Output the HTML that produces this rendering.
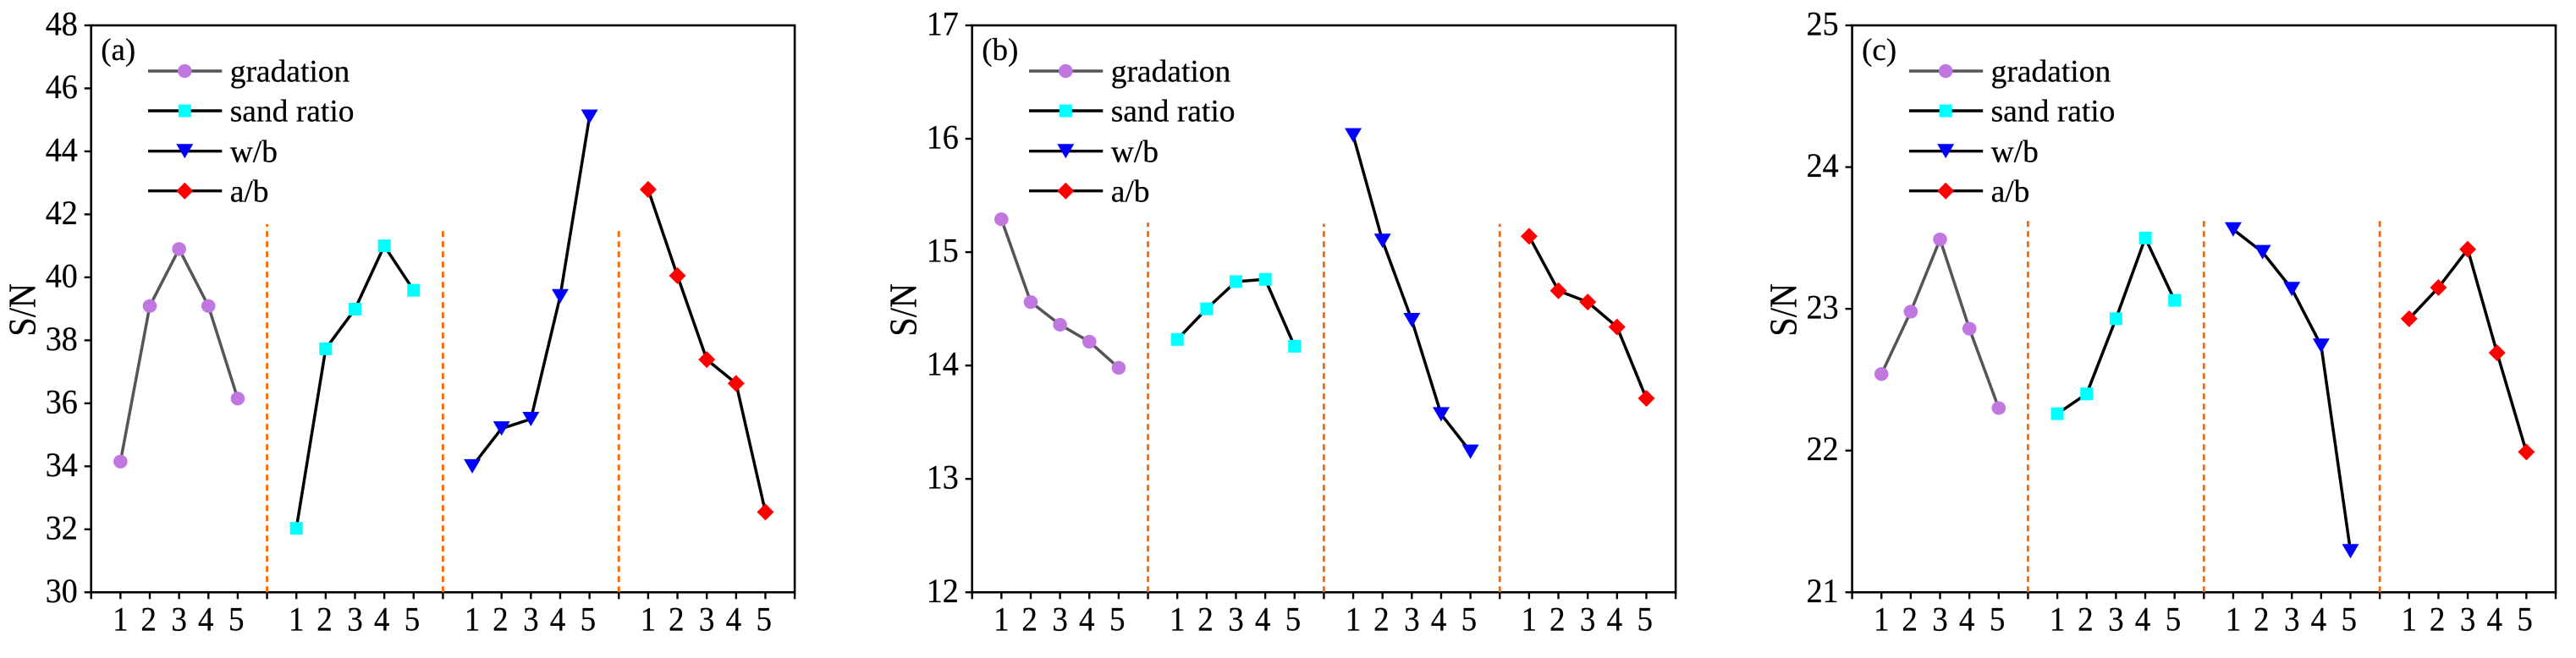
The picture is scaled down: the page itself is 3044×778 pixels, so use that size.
<!DOCTYPE html>
<html lang="en">
<head>
<meta charset="utf-8">
<title>S/N main effects charts</title>
<style>
  html, body { margin: 0; padding: 0; background: #fff; }
  svg { display: block; }
  text { font-family: "Liberation Serif", "Times New Roman", serif; fill: #000; stroke: #000; stroke-width: 0.25px; }
</style>
</head>
<body>
<svg id="chart" xmlns="http://www.w3.org/2000/svg" width="3044" height="778" viewBox="0 0 3044 778"></svg>
<script>
// ---- data ----
const levelLabels = ["1", "2", "3", "4", "5"];
const legendLabels = ["gradation", "sand ratio", "w/b", "a/b"];

const panelTitleA = "(a)";
const yTicksA = [30, 32, 34, 36, 38, 40, 42, 44, 46, 48];
const gradationA = [34.15, 39.09, 40.90, 39.09, 36.15];
const sandRatioA = [32.03, 37.73, 38.99, 41.00, 39.59];
const wbA = [34.00, 35.20, 35.50, 39.40, 45.10];
const abA = [42.79, 40.05, 37.39, 36.63, 32.55];
const dividerTopsA = [41.69, 41.56, 41.56];

const panelTitleB = "(b)";
const yTicksB = [12, 13, 14, 15, 16, 17];
const gradationB = [15.29, 14.56, 14.36, 14.21, 13.98];
const sandRatioB = [14.23, 14.50, 14.74, 14.76, 14.17];
const wbB = [16.03, 15.10, 14.40, 13.57, 13.24];
const abB = [15.14, 14.66, 14.56, 14.34, 13.71];
const dividerTopsB = [15.26, 15.25, 15.25];

const panelTitleC = "(c)";
const yTicksC = [21, 22, 23, 24, 25];
const gradationC = [22.54, 22.98, 23.49, 22.86, 22.30];
const sandRatioC = [22.26, 22.40, 22.93, 23.50, 23.06];
const wbC = [23.56, 23.40, 23.14, 22.74, 21.29];
const abC = [22.93, 23.15, 23.42, 22.69, 21.99];
const dividerTopsC = [23.64, 23.65, 23.64];

// ---- layout & drawing ----
const svg = document.getElementById('chart');
const NS = 'http://www.w3.org/2000/svg';
const TOP = 30, BOTTOM = 700.3, PLOT_W = 831.4, STEP = PLOT_W / 24;
const seriesStyle = [
  { key: 'gradation', stroke: '#555555', fill: '#c078e0', marker: 'circle' },
  { key: 'sand-ratio', stroke: '#000000', fill: '#00ffff', marker: 'square' },
  { key: 'w-b', stroke: '#000000', fill: '#0000ff', marker: 'triangle' },
  { key: 'a-b', stroke: '#000000', fill: '#ff0000', marker: 'diamond' }
];

function make(tag, attrs, parent) {
  const node = document.createElementNS(NS, tag);
  for (const k in attrs) node.setAttribute(k, attrs[k]);
  parent.appendChild(node);
  return node;
}

function drawMarker(kind, cx, cy, fill, parent) {
  let m;
  if (kind === 'circle') {
    m = make('ellipse', { cx: cx, cy: cy, rx: 8.3, ry: 8.1, fill: fill }, parent);
  } else if (kind === 'square') {
    m = make('rect', { x: cx - 7.5, y: cy - 7.5, width: 15, height: 15, fill: fill }, parent);
  } else if (kind === 'triangle') {
    const pts = (cx - 10) + ',' + (cy - 8.5) + ' ' + (cx + 10) + ',' + (cy - 8.5) + ' ' + cx + ',' + (cy + 8.5);
    m = make('polygon', { points: pts, fill: fill }, parent);
  } else {
    const pts = cx + ',' + (cy - 10) + ' ' + (cx + 10) + ',' + cy + ' ' + cx + ',' + (cy + 10) + ' ' + (cx - 10) + ',' + cy;
    m = make('polygon', { points: pts, fill: fill }, parent);
  }
  return m;
}

function drawPanel(left, id, title, yTicks, seriesList, dividerTops) {
  const group = make('g', {}, svg);
  
  

  const yMin = yTicks[0];
  const yMax = yTicks[yTicks.length - 1];
  const yScale = v => BOTTOM - (v - yMin) / (yMax - yMin) * (BOTTOM - TOP);
  const xScale = slot => left + slot * STEP;
  const labelNudge = [0, -1.3, 0, -3, -1.7];

  // frame
  const frame = make('rect', { x: left, y: TOP, width: PLOT_W, height: BOTTOM - TOP, fill: 'none', stroke: '#000', 'stroke-width': 2.6 }, group);
  
  

  // y axis ticks & labels
  yTicks.forEach(t => {
    const y = yScale(t);
    const tick = make('line', { x1: left - 8, x2: left, y1: y, y2: y, stroke: '#000', 'stroke-width': 2.4 }, group);
    
    
    const lab = make('text', { x: left - 16, y: y + 11.5, 'font-size': 40, 'text-anchor': 'end', textLength: 38, lengthAdjust: 'spacingAndGlyphs' }, group);
    lab.textContent = String(t);
    
    
  });

  // x ticks
  for (let slot = 0; slot <= 24; slot++) {
    const x = xScale(slot);
    const tick = make('line', { x1: x, x2: x, y1: BOTTOM, y2: BOTTOM + 8, stroke: '#000', 'stroke-width': 2.4 }, group);
    
    
  }

  // x labels
  for (let g = 0; g < 4; g++) {
    levelLabels.forEach((lab, i) => {
      const slot = g * 6 + i + 1;
      const t = make('text', { x: xScale(slot) + labelNudge[i], y: 745.5, 'font-size': 40, 'text-anchor': 'middle', textLength: 18.5, lengthAdjust: 'spacingAndGlyphs' }, group);
      t.textContent = lab;
      
      
    });
  }

  // y axis title
  const tx = left - 66, ty = 397.7;
  const yTitle = make('text', { x: 0, y: 0, transform: 'translate(' + tx + ',' + ty + ') rotate(-90)', 'font-size': 46, textLength: 62.7, lengthAdjust: 'spacingAndGlyphs' }, group);
  yTitle.textContent = 'S/N';
  
  

  // dividers
  dividerTops.forEach((top, i) => {
    const x = xScale((i + 1) * 6);
    const d = make('line', { x1: x, x2: x, y1: BOTTOM, y2: yScale(top), stroke: '#ff6600', 'stroke-width': 2.8, 'stroke-dasharray': '7 5' }, group);
    
    
  });

  // series
  seriesList.forEach((values, s) => {
    const style = seriesStyle[s];
    const pts = values.map((v, i) => xScale(s * 6 + i + 1) + ',' + yScale(v)).join(' ');
    const line = make('polyline', { points: pts, fill: 'none', stroke: style.stroke, 'stroke-width': 3.5, 'stroke-linejoin': 'round' }, group);
    
    
    values.forEach((v, i) => {
      const m = drawMarker(style.marker, xScale(s * 6 + i + 1), yScale(v), style.fill, group);
      
      
    });
  });

  // panel label
  const pl = make('text', { x: left + 11.5, y: 71, 'font-size': 37 }, group);
  pl.textContent = title;
  
  

  // legend
  const legendY = [84, 131, 178.7, 225.7];
  legendLabels.forEach((label, i) => {
    const style = seriesStyle[i];
    const row = make('g', {}, group);
    
    
    make('line', { x1: left + 67.3, x2: left + 154.6, y1: legendY[i], y2: legendY[i], stroke: style.stroke, 'stroke-width': 3.4 }, row);
    drawMarker(style.marker, left + 110.6, legendY[i], style.fill, row);
    const t = make('text', { x: left + 164, y: legendY[i] + 12.6, 'font-size': 37.5 }, row);
    t.textContent = label;
  });
}

drawPanel(107.7, 'a', panelTitleA, yTicksA, [gradationA, sandRatioA, wbA, abA], dividerTopsA);
drawPanel(1148.7, 'b', panelTitleB, yTicksB, [gradationB, sandRatioB, wbB, abB], dividerTopsB);
drawPanel(2188.6, 'c', panelTitleC, yTicksC, [gradationC, sandRatioC, wbC, abC], dividerTopsC);
</script>
</body>
</html>
